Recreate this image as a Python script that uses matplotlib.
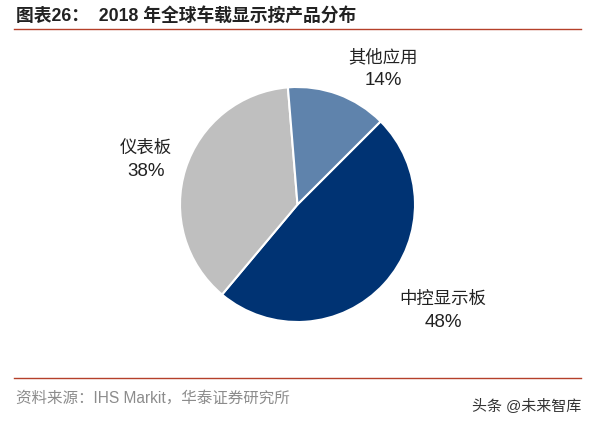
import matplotlib
matplotlib.use("Agg")
import matplotlib.pyplot as plt

plt.rcParams['font.family'] = ['Liberation Sans', 'Noto Sans CJK SC', 'DejaVu Sans']

title = "图表26：  2018 年全球车载显示按产品分布"
source = "资料来源：IHS Markit，华泰证券研究所"
watermark = "头条 @未来智库"
labels = ["中控显示板", "仪表板", "其他应用"]
label_values = ["48%", "38%", "14%"]
# slice sizes, they differ a little from the printed labels
shares = [48.6, 37.6, 13.8]
colors = ["#003373", "#BFBFBF", "#5F83AC"]
line_color = "#B5402A"

W, H = 594, 426
fig = plt.figure(figsize=(W / 100, H / 100), dpi=100)

# pie sits in a square axes, about 235 px across
ax = fig.add_axes([180 / W, 1 - 322 / H, 235 / W, 235 / H])
ax.pie(shares, colors=colors, startangle=45, counterclock=False,
       radius=1.0, wedgeprops=dict(edgecolor="white", linewidth=1.5))
ax.set_xlim(-1, 1)
ax.set_ylim(-1, 1)


def txt(x, y, s, **kw):
    fig.text(x / W, 1 - y / H, s, va="center", **kw)


txt(16, 16, title, fontsize=12.8, fontweight="bold", color="#222222", ha="left")
txt(16, 398, source, fontsize=11.2, color="#8C8C8C", ha="left")
txt(472, 406, watermark, fontsize=10.8, color="#333333", ha="left")

label_pos = [(443, 299), (146, 148), (383, 57)]
for (x, y), name, val in zip(label_pos, labels, label_values):
    txt(x, y, name, fontsize=12.5, color="#222222", ha="center")
    txt(x, y + 23.5, val, fontsize=13.5, color="#222222", ha="center")

for y in (29, 378):
    fig.add_artist(plt.Line2D([14 / W, 581 / W], [1 - y / H, 1 - y / H],
                              color=line_color, linewidth=1))

fig.savefig("out.png", dpi=100)
